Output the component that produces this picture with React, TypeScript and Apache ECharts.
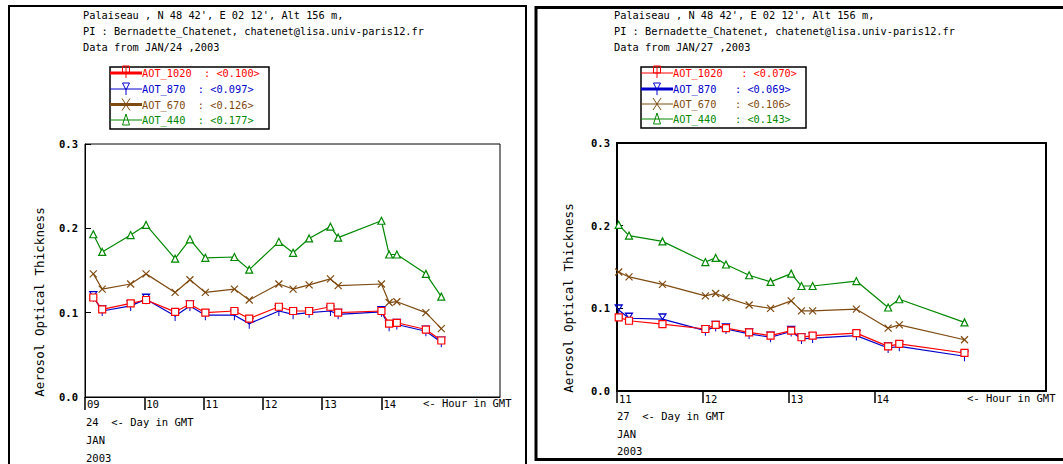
import React, { useEffect, useRef } from "react";
import * as echarts from "echarts";

// ---------- data (left panel: JAN 24 2003) ----------
const leftHours = [9.14, 9.29, 9.77, 10.03, 10.52, 10.77, 11.03, 11.52, 11.77, 12.27, 12.51, 12.78, 13.14, 13.27, 14.0, 14.13, 14.26, 14.75, 15.01];
const left1020 = [0.118, 0.104, 0.111, 0.115, 0.101, 0.11, 0.1, 0.102, 0.093, 0.107, 0.102, 0.102, 0.107, 0.1, 0.102, 0.087, 0.088, 0.08, 0.067];
const left870 = [0.119, 0.102, 0.108, 0.116, 0.096, 0.108, 0.097, 0.097, 0.087, 0.102, 0.098, 0.1, 0.102, 0.098, 0.101, 0.084, 0.086, 0.078, 0.065];
const left670 = [0.146, 0.128, 0.134, 0.146, 0.124, 0.139, 0.124, 0.128, 0.115, 0.134, 0.128, 0.133, 0.14, 0.132, 0.134, 0.112, 0.113, 0.1, 0.081];
const left440 = [0.193, 0.172, 0.192, 0.204, 0.164, 0.187, 0.165, 0.166, 0.151, 0.184, 0.171, 0.188, 0.202, 0.189, 0.209, 0.169, 0.169, 0.146, 0.119];

// ---------- data (right panel: JAN 27 2003) ----------
const rightHours = [11.02, 11.14, 11.53, 12.03, 12.15, 12.27, 12.54, 12.79, 13.03, 13.15, 13.28, 13.79, 14.16, 14.29, 15.05];
const right1020 = [0.089, 0.085, 0.081, 0.075, 0.08, 0.076, 0.071, 0.067, 0.073, 0.065, 0.067, 0.07, 0.054, 0.057, 0.046];
const right870 = [0.098, 0.088, 0.087, 0.073, 0.078, 0.075, 0.069, 0.065, 0.072, 0.063, 0.064, 0.067, 0.052, 0.054, 0.042];
const right670 = [0.144, 0.138, 0.129, 0.115, 0.118, 0.113, 0.104, 0.1, 0.109, 0.097, 0.097, 0.099, 0.076, 0.08, 0.062];
const right440 = [0.201, 0.188, 0.181, 0.156, 0.161, 0.153, 0.14, 0.132, 0.142, 0.127, 0.127, 0.133, 0.101, 0.111, 0.083];

const leftHourTicks = [9, 10, 11, 12, 13, 14];
const rightHourTicks = [11, 12, 13, 14];

const headerLeft = ["Palaiseau , N 48 42', E 02 12', Alt 156 m,", "PI : Bernadette_Chatenet, chatenet@lisa.univ-paris12.fr", "Data from JAN/24 ,2003"];
const headerRight = ["Palaiseau , N 48 42', E 02 12', Alt 156 m,", "PI : Bernadette_Chatenet, chatenet@lisa.univ-paris12.fr", "Data from JAN/27 ,2003"];
const legendLeft = ["AOT_1020  : <0.100>", "AOT_870  : <0.097>", "AOT_670  : <0.126>", "AOT_440  : <0.177>"];
const legendRight = ["AOT_1020   : <0.070>", "AOT_870   : <0.069>", "AOT_670   : <0.106>", "AOT_440   : <0.143>"];
const dateLeft = ["24  <- Day in GMT", "JAN", "2003"];
const dateRight = ["27  <- Day in GMT", "JAN", "2003"];

const FONT = '"DejaVu Sans Mono", "Liberation Mono", monospace';
const RED = "#ff0000";
const BLUE = "#0000cc";
const BROWN = "#7f4a10";
const GREEN = "#008800";
const COLORS = [RED, BLUE, BROWN, GREEN];

const SYM_BLUE = "path://M0,0L8,0L4,6ZM4,6L4,11";
const SYM_X = "path://M0,0L8,8M8,0L0,8";

function seriesFor(hours: number[], vals: number[][], idx: number) {
  const defs = [
    { name: "AOT_440", c: GREEN, sym: "triangle", size: 7, v: vals[3] },
    { name: "AOT_670", c: BROWN, sym: SYM_X, size: 7, v: vals[2] },
    { name: "AOT_870", c: BLUE, sym: SYM_BLUE, size: [7, 10], v: vals[1] },
    { name: "AOT_1020", c: RED, sym: "rect", size: 7, v: vals[0] },
  ];
  return defs.map((d) => ({
    type: "line",
    name: d.name,
    xAxisIndex: idx,
    yAxisIndex: idx,
    data: hours.map((h, i) => [h, d.v[i]]),
    symbol: d.sym,
    symbolSize: d.size,
    showSymbol: true,
    lineStyle: { color: d.c, width: 1.2 },
    itemStyle: { color: d.sym === SYM_X || d.sym === SYM_BLUE ? "none" : "#fff", borderColor: d.c, borderWidth: 1.2 },
    emphasis: { disabled: true },
  }));
}

function xAxisFor(idx: number, min: number, ticks: number[], margin: number, tickLen: number) {
  return {
    type: "value",
    gridIndex: idx,
    min,
    max: 16,
    interval: 1,
    axisLine: { show: true, onZero: false, lineStyle: { color: "#000", width: 1 } },
    axisTick: { show: true, customValues: ticks, length: tickLen, lineStyle: { color: "#000", width: 1.5 } },
    axisLabel: {
      customValues: ticks,
      formatter: (v: number) => String(v).padStart(2, "0"),
      align: "left",
      margin,
      padding: [0, 0, 0, 2],
      color: "#000",
      fontFamily: FONT,
      fontSize: 10.5,
    },
    splitLine: { show: false },
  };
}

function yAxisFor(idx: number) {
  return {
    type: "value",
    gridIndex: idx,
    min: 0,
    max: 0.3,
    interval: 0.1,
    axisLine: { show: true, lineStyle: { color: "#000", width: 1 } },
    axisTick: { show: true, inside: true, length: 6, lineStyle: { color: "#000" } },
    axisLabel: {
      formatter: (v: number) => v.toFixed(1),
      color: "#000",
      fontFamily: FONT,
      fontSize: 10.5,
      fontWeight: "bold",
      margin: 7,
    },
    splitLine: { show: false },
  };
}

function txt(x: number, y: number, text: string, extra: any = {}) {
  return {
    type: "text",
    x,
    y,
    silent: true,
    style: { text, fill: "#000", font: `10.3px ${FONT}`, textVerticalAlign: "middle", ...extra },
  };
}

function legendBox(x0: number, x1: number, y0: number, y1: number, rows: number[], texts: string[], widths: number[]) {
  const els: any[] = [
    { type: "rect", shape: { x: x0, y: y0, width: x1 - x0, height: y1 - y0 }, style: { fill: "#fff", stroke: "#000", lineWidth: 1.5 } },
  ];
  const lx1 = x0 + 32;
  const mx = x0 + 16;
  rows.forEach((y, i) => {
    const c = COLORS[i];
    els.push({ type: "line", shape: { x1: x0, y1: y, x2: lx1, y2: y }, style: { stroke: c, lineWidth: widths[i] } });
    if (i === 0) {
      els.push({ type: "rect", shape: { x: mx - 3.5, y: y - 7, width: 7, height: 7 }, style: { fill: "none", stroke: c, lineWidth: 1 } });
      els.push({ type: "line", shape: { x1: mx, y1: y - 7, x2: mx, y2: y + 5 }, style: { stroke: c, lineWidth: 1 } });
    } else if (i === 1) {
      els.push({ type: "polygon", shape: { points: [[mx - 3.5, y - 6], [mx + 3.5, y - 6], [mx, y + 1]] }, style: { fill: "none", stroke: c, lineWidth: 1 } });
      els.push({ type: "line", shape: { x1: mx, y1: y + 1, x2: mx, y2: y + 6 }, style: { stroke: c, lineWidth: 1 } });
    } else if (i === 2) {
      els.push({ type: "line", shape: { x1: mx - 4, y1: y - 6, x2: mx + 4, y2: y + 6 }, style: { stroke: c, lineWidth: 1 } });
      els.push({ type: "line", shape: { x1: mx + 4, y1: y - 6, x2: mx - 4, y2: y + 6 }, style: { stroke: c, lineWidth: 1 } });
    } else {
      els.push({ type: "polygon", shape: { points: [[mx, y - 6], [mx + 3.5, y + 5], [mx - 3.5, y + 5]] }, style: { fill: "none", stroke: c, lineWidth: 1 } });
    }
    els.push(txt(lx1, y, texts[i], { fill: c }));
  });
  return els;
}

export default function App() {
  const ref = useRef<HTMLDivElement>(null);
  useEffect(() => {
    if (!ref.current) return;
    const chart = echarts.init(ref.current, undefined, { renderer: "svg" });

    const graphics: any[] = [
      // panel borders
      { type: "rect", shape: { x: 9, y: 6, width: 517, height: 470 }, style: { fill: "none", stroke: "#000", lineWidth: 2 } },
      { type: "rect", shape: { x: 536, y: 7.5, width: 540, height: 452 }, style: { fill: "none", stroke: "#000", lineWidth: 3 } },
    ];
    headerLeft.forEach((t, i) => graphics.push(txt(83, 15 + i * 16, t)));
    headerRight.forEach((t, i) => graphics.push(txt(614, 15 + i * 16, t)));
    graphics.push(...legendBox(110, 269, 67, 129, [73, 89, 104.5, 120], legendLeft, [3, 1, 3, 1]));
    graphics.push(...legendBox(641, 806, 67, 128, [73, 89, 104, 119], legendRight, [1, 3, 1, 1]));
    dateLeft.forEach((t, i) => graphics.push(txt(86, 422 + i * 18, t, { font: `10.5px ${FONT}` })));
    dateRight.forEach((t, i) => graphics.push(txt(617, 416 + i * 17.5, t, { font: `10.5px ${FONT}` })));
    graphics.push(txt(423, 403, "<- Hour in GMT", { font: `10.5px ${FONT}` }));
    graphics.push(txt(967, 398, "<- Hour in GMT", { font: `10.5px ${FONT}` }));
    graphics.push({
      type: "text", x: 39, y: 302, rotation: Math.PI / 2, silent: true,
      style: { text: "Aerosol Optical Thickness", fill: "#000", font: `12.6px ${FONT}`, textAlign: "center", textVerticalAlign: "middle" },
    });
    graphics.push({
      type: "text", x: 568, y: 298, rotation: Math.PI / 2, silent: true,
      style: { text: "Aerosol Optical Thickness", fill: "#000", font: `12.6px ${FONT}`, textAlign: "center", textVerticalAlign: "middle" },
    });

    chart.setOption({
      animation: false,
      backgroundColor: "#fff",
      grid: [
        { left: 85, top: 144, width: 415, height: 253, show: true, borderColor: "#000", borderWidth: 1, backgroundColor: "transparent" },
        { left: 617, top: 143, width: 429, height: 248, show: true, borderColor: "#000", borderWidth: 2, backgroundColor: "transparent" },
      ],
      xAxis: [xAxisFor(0, 9, leftHourTicks, 1, 13), xAxisFor(1, 11, rightHourTicks, 2, 12)],
      yAxis: [yAxisFor(0), yAxisFor(1)],
      series: [
        ...seriesFor(leftHours, [left1020, left870, left670, left440], 0),
        ...seriesFor(rightHours, [right1020, right870, right670, right440], 1),
      ],
      graphic: graphics,
    });
    return () => chart.dispose();
  }, []);
  return <div ref={ref} style={{ position: "fixed", left: 0, top: 0, width: 1063, height: 464 }} />;
}
